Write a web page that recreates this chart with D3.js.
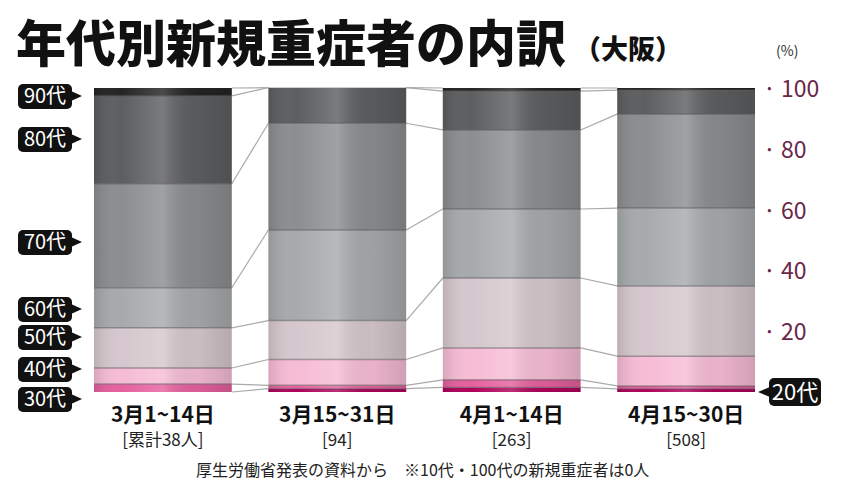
<!DOCTYPE html><html><head><meta charset="utf-8"><script src="https://cdn.jsdelivr.net/npm/d3@7"></script>
<style>body{margin:0;background:#fff}text{font-family:"Noto Sans CJK JP",sans-serif}</style></head><body><svg id="c" width="846" height="501"></svg><script>
const periods=["3月1~14日","3月15~31日","4月1~14日","4月15~30日"];
const totals=["[累計38人]","[94]","[263]","[508]"];
const ages=["20代","30代","40代","50代","60代","70代","80代","90代"];
const v20=[0,1.1,1.5,1];
const v30=[2.6,1.1,2.5,1];
const v40=[5.3,8.5,10.5,9.8];
const v50=[13.2,12.8,23,23.1];
const v60=[13.2,29.8,22.7,25.6];
const v70=[34.2,35.1,26,30.9];
const v80=[28.9,11.7,12.8,7.9];
const v90=[2.6,0,1,0.7];
const yTicks=[20,40,60,80,100];
const colors=["#b0005a","#e6609e","#f6bcd5","#d5c7cd","#a7aaac","#8b8d8f","#5d5e60","#242424"];
const series=[v20,v30,v40,v50,v60,v70,v80,v90];
const svg=d3.select("#c");
const x=d3.scaleBand().domain(periods).range([94,755]).paddingInner(0.21).paddingOuter(0);
const y=d3.scaleLinear().domain([0,100]).range([392,88]);
const data=periods.map((p,i)=>{const o={p};ages.forEach((a,k)=>o[a]=series[k][i]);return o;});
const stack=d3.stack().keys(ages)(data);
const defs=svg.append("defs");
const g=defs.append("linearGradient").attr("id","sh");
[[0,0.12],[0.2,0],[0.5,-0.18],[0.75,0.05],[1,0.15]].forEach(([o,a])=>g.append("stop").attr("offset",o).attr("stop-color",a>0?"#000":"#fff").attr("stop-opacity",Math.abs(a)));
stack.forEach(s=>{for(let i=0;i<periods.length-1;i++){svg.append("line").attr("x1",x(periods[i])+x.bandwidth()).attr("x2",x(periods[i+1])).attr("y1",y(s[i][1])).attr("y2",y(s[i+1][1])).attr("stroke","#aaa").attr("stroke-width",1.2);}});
stack.forEach((s,k)=>{svg.selectAll(null).data(s).join("rect").attr("x",(d,i)=>x(periods[i])).attr("width",x.bandwidth()).attr("y",d=>y(d[1])).attr("height",d=>y(d[0])-y(d[1])).attr("fill",colors[k]);});
periods.forEach(p=>svg.append("rect").attr("x",x(p)).attr("width",x.bandwidth()).attr("y",y(100)).attr("height",y(0)-y(100)).attr("fill","url(#sh)"));
stack.forEach(s=>s.forEach((d,i)=>{if(d[1]<99.9&&d[1]>d[0])svg.append("line").attr("x1",x(periods[i])).attr("x2",x(periods[i])+x.bandwidth()).attr("y1",y(d[1])).attr("y2",y(d[1])).attr("stroke","#555").attr("stroke-opacity",0.5).attr("stroke-width",1.5);}));
svg.append("text").attr("x",16).attr("y",62).attr("font-size",50).attr("font-weight",900).attr("fill","#111").text("年代別新規重症者の内訳");
svg.append("text").attr("x",574).attr("y",59).attr("font-size",27).attr("font-weight",900).attr("fill","#111").text("（大阪）");
svg.append("text").attr("x",776).attr("y",56).attr("font-size",14).attr("fill","#333").text("(%)");
yTicks.forEach(t=>{svg.append("text").attr("x",763).attr("y",y(t)+9).attr("font-size",23).attr("fill","#6a2648").attr("font-family","Liberation Sans Narrow, sans-serif").text("· "+t);});
periods.forEach((p,i)=>{const cx=x(p)+x.bandwidth()/2;
svg.append("text").attr("x",cx).attr("y",422).attr("text-anchor","middle").attr("font-size",21).attr("font-weight",700).attr("fill","#111").text(p);
svg.append("text").attr("x",cx).attr("y",446).attr("text-anchor","middle").attr("font-size",17).attr("fill","#222").text(totals[i]);});
svg.append("text").attr("x",196).attr("y",476).attr("font-size",16).attr("fill","#222").text("厚生労働省発表の資料から　※10代・100代の新規重症者は0人");
const lab=[["90代",96],["80代",139],["70代",242],["60代",309],["50代",337],["40代",369],["30代",399]];
lab.forEach(([t,cy])=>{const gg=svg.append("g");
gg.append("rect").attr("x",18).attr("y",cy-12).attr("width",54).attr("height",25).attr("rx",5).attr("fill","#111");
gg.append("path").attr("d",`M71,${cy-5}L82,${cy}L71,${cy+5}Z`).attr("fill","#111");
gg.append("text").attr("x",45).attr("y",cy+7).attr("text-anchor","middle").attr("font-size",20).attr("fill","#fff").attr("font-family","Liberation Sans Narrow, sans-serif").text(t);});
{const cy=392,gg=svg.append("g");
gg.append("rect").attr("x",769).attr("y",cy-14).attr("width",52).attr("height",28).attr("rx",5).attr("fill","#111");
gg.append("path").attr("d",`M770,${cy-5}L758,${cy}L770,${cy+5}Z`).attr("fill","#111");
gg.append("text").attr("x",795).attr("y",cy+8).attr("text-anchor","middle").attr("font-size",22).attr("fill","#fff").attr("font-family","Liberation Sans Narrow, sans-serif").text("20代");}
</script></body></html>
